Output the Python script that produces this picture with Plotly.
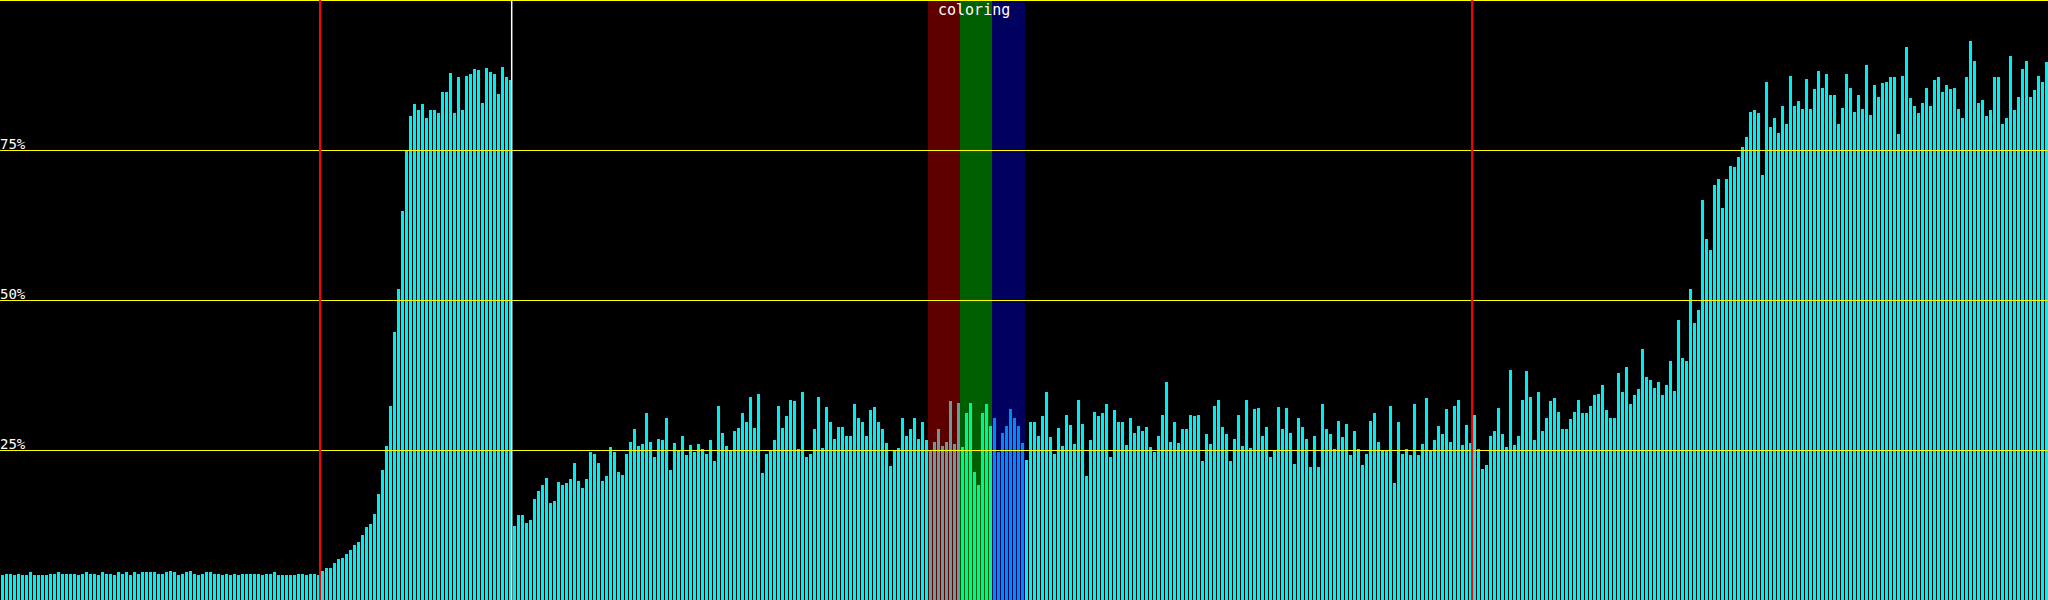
import plotly.graph_objects as go

# ---------------- data ----------------
seg1 = [4.3,4.5,4.5,4.3,4.5,4.3,4.2,4.7,4.3,4.2,4.3,4.3,4.5,4.5,4.7,4.5,4.5,4.5,4.5,4.3,4.5,4.7,4.5,4.5,4.2,4.7,4.5,4.5,4.3,4.7,4.5,4.7,
        4.3,4.7,4.5,4.7,4.7,4.7,4.7,4.5,4.5,4.7,4.9,4.7,4.3,4.5,4.7,4.9,4.5,4.3,4.5,4.7,4.7,4.5,4.5,4.3,4.5,4.3,4.5,4.3,4.5,4.5,4.5,4.5]
seg2 = [4.5,4.3,4.5,4.5,4.7,4.3,4.2,4.3,4.3,4.3,4.5,4.5,4.3,4.5,4.5,4.3,
        5.0,5.4,5.5,6.3,7.0,7.1,7.7,8.5,9.2,9.7,11.0,12.3,12.7,14.5,17.7,21.7,25.8,32.5,44.8,52.0,65.0,74.9,80.7,82.7,
        81.7,82.8,80.5,81.8,81.7,81.3,84.7,84.7,88.0,81.3,87.2,81.7,87.5,87.7,88.6,88.5,83.0,88.8,88.1,87.8,84.5,89.0,87.2,86.7]
seg3 = [12.5,14.2,14.2,13.0,13.5,17.0,18.2,19.3,20.5,16.3,16.6,19.8,19.2,19.6,20.2,23.0,20.0,18.7,20.2,24.7,
        24.5,23.0,20.0,20.7,25.6,24.7,21.5,20.9,24.4,26.5,28.6,25.8,26.1,31.3,26.5,23.9,27.0,26.8,30.5,21.7,
        26.3,25.0,27.4,24.2,26.0,24.7,26.1,25.2,24.4,26.7,23.3,32.5,28.0,25.8,25.0,28.3,28.8,31.3,29.8,34.0,
        28.8,34.5,21.2,24.4]
seg4 = [24.9,26.7,32.5,28.8,30.7,33.4,33.2,25.3,34.8,24.0,24.5,28.6,33.9,25.5,32.3,29.8,27.0,29.0,29.0,27.5,
        27.5,32.8,30.4,29.7,27.5,31.8,32.3,29.8,28.6,26.3,22.5,24.9,25.5,30.4,27.4,28.6,30.5,27.0,29.8,26.7,
        24.9,26.5,28.6,25.8,26.5,33.2,26.1,33.0,
        25.6,31.3,33.0,21.5,19.3,31.3,32.7,29.1,
        30.4,24.7,28.0,29.1,32.0,30.5,29.1,26.3]
seg5 = [23.5,29.7,29.7,27.5,30.7,34.8,27.2,24.5,28.8,25.8,31.0,29.3,26.1,33.5,29.5,20.7,26.7,31.5,30.8,31.3,
        32.8,24.0,31.8,29.8,29.7,26.0,30.5,28.0,29.1,28.3,29.0,25.6,24.7,27.4,31.0,36.5,26.5,29.8,26.3,28.6,
        28.6,31.0,30.8,31.0,23.2,27.7,26.1,32.5,33.4,29.0,27.8,23.2,27.0,31.0,25.8,33.5,25.5,32.0,32.1,27.5,
        29.0,24.0,24.9,32.3]
seg6 = [28.6,32.1,28.0,22.8,30.4,29.0,27.0,22.3,27.5,22.2,32.8,28.6,27.8,25.3,30.0,27.2,29.5,24.2,28.2,25.3,
        22.6,24.5,30.0,31.3,26.5,24.9,24.9,32.5,19.6,29.7,24.4,25.2,24.2,32.7,24.2,26.1,33.7,24.9,26.7,29.1,
        27.8,32.0,26.5,32.5,33.4,26.0,29.3,26.3,31.0,25.3,22.0,22.6,27.5,28.3,32.1,27.7,25.6,38.5,26.0,27.4,
        33.4,38.3,34.0,26.8]
seg7 = [34.7,28.3,30.5,33.2,33.7,31.5,28.6,28.6,30.2,31.5,33.4,31.2,31.2,32.5,34.3,34.5,36.0,31.7,30.5,30.4,
        38.0,34.8,39.0,32.7,34.2,35.3,42.0,37.2,36.7,35.5,36.5,34.3,36.0,40.0,35.0,46.7,40.5,39.9,52.0,46.2,
        48.5,66.8,60.3,58.4,69.3,70.2,65.5,70.3,72.5,72.2,73.9,75.6,77.2,81.5,81.7,81.3,71.0,86.5,79.0,80.5,
        78.0,82.5,79.5,87.5]
seg8 = [82.5,83.2,82.0,87.0,82.0,85.3,88.3,85.5,87.7,84.3,84.3,79.5,82.1,87.8,85.5,81.5,84.2,82.0,89.2,81.0,
        86.0,84.0,86.2,86.4,87.2,87.3,77.8,87.5,92.2,83.7,82.5,81.2,83.0,85.5,82.5,86.7,87.3,84.8,86.0,85.3,
        85.5,82.0,80.4,87.3,93.3,90.0,83.0,83.5,80.7,81.7,87.2,87.2,79.5,80.5,90.7,81.8,83.9,88.6,89.9,84.0,
        85.1,87.5,86.5,89.7]

values = seg1 + seg2 + seg3 + seg4 + seg5 + seg6 + seg7 + seg8
samples = list(range(len(values)))

grid_ticks = [25, 50, 75, 100]
tick_labels = ["25%", "50%", "75%"]

red_markers = [79.375, 367.4]
white_marker = 127.3

# coloring bands: (start, end, band fill, bar color)
bands = [
    (231.375, 239.375, "#5f0000", "#6a9a9a"),
    (239.375, 247.375, "#005f00", "#00f58a"),
    (247.375, 255.625, "#00005f", "#0088f5"),
]
band_title = "coloring"

# ---------------- styling ----------------
Y_MIN, Y_MAX = 0.083, 100.083
X_MIN, X_MAX = -0.625, 511.375
BAR_COLOR = "#00eeee"
GRID_COLOR = "#ffff00"

colors = []
for i in samples:
    c = BAR_COLOR
    for s, e, _, bc in bands:
        if s < i < e:
            c = bc
    colors.append(c)

fig = go.Figure()
fig.add_trace(go.Bar(
    x=samples,
    y=values,
    width=0.75,
    marker=dict(color=colors, line=dict(width=0)),
    hoverinfo="skip",
))

shapes = []
for s, e, fill, _ in bands:
    shapes.append(dict(type="rect", xref="x", yref="paper", x0=s, x1=e, y0=0, y1=1,
                       fillcolor=fill, line=dict(width=0), layer="below"))
for t in grid_ticks:
    shapes.append(dict(type="line", xref="paper", yref="y", x0=0, x1=1, y0=t, y1=t,
                       line=dict(color=GRID_COLOR, width=1), layer="above"))
for xm in red_markers:
    shapes.append(dict(type="line", xref="x", yref="paper", x0=xm, x1=xm, y0=0, y1=1,
                       line=dict(color="#ff0000", width=2), layer="above"))
shapes.append(dict(type="line", xref="x", yref="paper", x0=white_marker, x1=white_marker, y0=0, y1=1,
                   line=dict(color="#ffffff", width=1.5), layer="above"))

annotations = []
for t, lab in zip(grid_ticks, tick_labels):
    annotations.append(dict(x=0, xref="paper", y=t, yref="y", text=lab, showarrow=False,
                            xanchor="left", yanchor="bottom", xshift=-2, yshift=-3,
                            font=dict(family="DejaVu Sans Mono", size=14, color="#ffffff")))
annotations.append(dict(x=(bands[0][0] + bands[-1][1]) / 2, xref="x", y=1, yref="paper",
                        text=band_title, showarrow=False, xanchor="center", yanchor="top",
                        xshift=-3, yshift=1,
                        font=dict(family="DejaVu Sans Mono", size=15, color="#ffffff")))

fig.update_layout(
    width=2048, height=600,
    margin=dict(l=0, r=0, t=0, b=0),
    paper_bgcolor="#000000", plot_bgcolor="#000000",
    showlegend=False,
    xaxis=dict(range=[X_MIN, X_MAX], visible=False, showgrid=False, zeroline=False),
    yaxis=dict(range=[Y_MIN, Y_MAX], visible=False, showgrid=False, zeroline=False),
    shapes=shapes,
    annotations=annotations,
    bargap=0,
)

fig.write_html(
    "out.html",
    config={"displayModeBar": False},
    post_script="document.body.style.margin='0px';document.body.style.padding='0px';document.body.style.background='#000';document.body.style.overflow='hidden';",
)
